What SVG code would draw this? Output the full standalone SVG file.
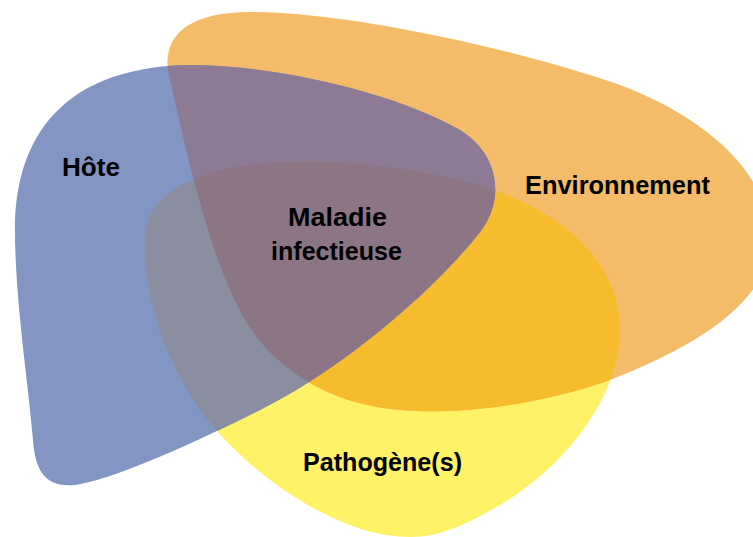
<svg xmlns="http://www.w3.org/2000/svg" width="753" height="537" viewBox="0 0 753 537">
<style>
.lbl{font-family:"Liberation Sans",Arial,sans-serif;font-weight:bold;font-size:25px;fill:#000}
.yellow{fill:#FFF266}
.orange{fill:#F4BC69}
.blue{fill:#8396C3}
.oy{fill:#F7BC2D}
.bo{fill:#8D7A95}
.by{fill:#8A8EA0}
.byo{fill:#8C7686}
</style>
<defs>
<path id="pEnv" d="M 168,70 C 163,35 190,12 250,12 C 350,12 520,50 620,85 C 700,115 770,170 770,240 C 770,300 700,345 610,380 C 540,405 460,415 400,410 C 340,405 290,380 255,335 C 215,280 190,170 168,70 Z"/>
<path id="pHote" d="M 190,65 C 280,65 400,95 460,130 C 500,155 505,200 480,232 C 430,295 340,370 260,410 C 180,450 110,480 75,485 C 45,488 35,470 33,440 C 28,380 15,300 15,230 C 15,150 50,100 110,78 C 140,68 165,65 190,65 Z"/>
<path id="pPath" d="M 145,240 C 145,205 170,185 220,170 C 280,155 380,160 460,180 C 560,205 620,260 620,330 C 620,400 560,470 500,505 C 465,525 440,537 410,537 C 350,537 280,495 230,445 C 177,392 143,310 145,240 Z"/>
<clipPath id="cEnv"><use href="#pEnv"/></clipPath>
<clipPath id="cPath"><use href="#pPath"/></clipPath>
</defs>
<g id="pathogene">
<use href="#pPath" class="yellow"/>
</g>
<g id="environnement">
<use href="#pEnv" class="orange"/>
<use href="#pPath" class="oy" clip-path="url(#cEnv)"/>
</g>
<g id="hote">
<use href="#pHote" class="blue"/>
<use href="#pHote" class="bo" clip-path="url(#cEnv)"/>
<use href="#pHote" class="by" clip-path="url(#cPath)"/>
<g clip-path="url(#cPath)"><use href="#pHote" class="byo" clip-path="url(#cEnv)"/></g>
</g>
<g id="labels">
<text class="lbl" x="62" y="176" textLength="58" lengthAdjust="spacingAndGlyphs">Hôte</text>
<text class="lbl" x="525" y="194" textLength="185" lengthAdjust="spacingAndGlyphs">Environnement</text>
<text class="lbl" x="288" y="226" textLength="99" lengthAdjust="spacingAndGlyphs">Maladie</text>
<text class="lbl" x="271" y="260" textLength="131" lengthAdjust="spacingAndGlyphs">infectieuse</text>
<text class="lbl" x="303" y="471" textLength="159" lengthAdjust="spacingAndGlyphs">Pathogène(s)</text>
</g>
</svg>
